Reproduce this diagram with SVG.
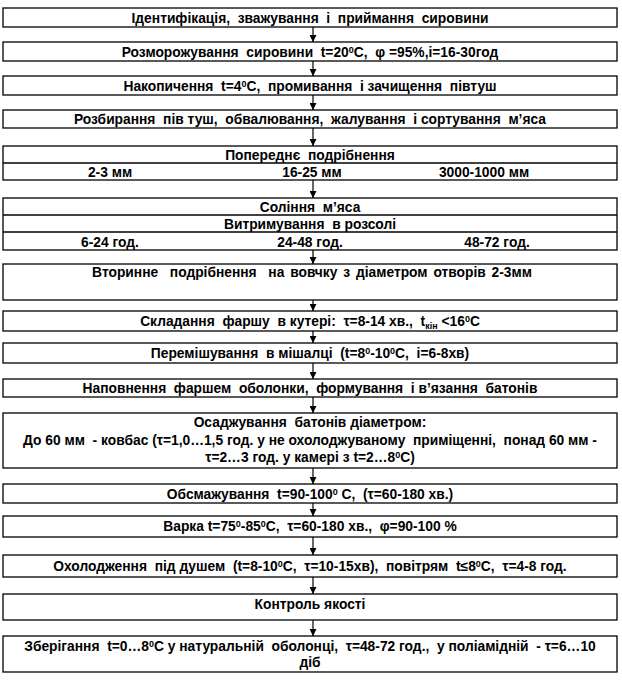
<svg xmlns="http://www.w3.org/2000/svg" width="622" height="680" viewBox="0 0 622 680">
<defs>
<style>
.b{fill:#fff;stroke:#000;stroke-width:1.3}
.d{stroke:#000;stroke-width:1.3}
text{font-family:"Liberation Sans",Arial,sans-serif;font-weight:bold;font-size:13.8px;fill:#000;text-anchor:middle;white-space:pre}
.s{font-size:9px}
.c line{stroke:#000;stroke-width:1.2}
</style>
<marker id="ah" viewBox="0 0 10 10" refX="10" refY="5" markerWidth="7" markerHeight="7" markerUnits="userSpaceOnUse" orient="auto"><path d="M0,0L10,5L0,10z" fill="#000"/></marker>
</defs>
<rect width="622" height="680" fill="#fff"/>
<g class="c" id="connectors">
<line x1="313" y1="27" x2="313" y2="42" marker-end="url(#ah)"/>
<line x1="313" y1="61" x2="313" y2="76" marker-end="url(#ah)"/>
<line x1="313" y1="95" x2="313" y2="110" marker-end="url(#ah)"/>
<line x1="313" y1="128" x2="313" y2="146" marker-end="url(#ah)"/>
<line x1="313" y1="180" x2="313" y2="198" marker-end="url(#ah)"/>
<line x1="313" y1="250" x2="313" y2="264" marker-end="url(#ah)"/>
<line x1="313" y1="300" x2="313" y2="311" marker-end="url(#ah)"/>
<line x1="313" y1="331" x2="313" y2="343" marker-end="url(#ah)"/>
<line x1="313" y1="363" x2="313" y2="379" marker-end="url(#ah)"/>
<line x1="313" y1="397" x2="313" y2="413" marker-end="url(#ah)"/>
<line x1="313" y1="468" x2="313" y2="484" marker-end="url(#ah)"/>
<line x1="313" y1="503" x2="313" y2="516" marker-end="url(#ah)"/>
<line x1="313" y1="537" x2="313" y2="555" marker-end="url(#ah)"/>
<line x1="313" y1="577" x2="313" y2="594" marker-end="url(#ah)"/>
<line x1="313" y1="620" x2="313" y2="636" marker-end="url(#ah)"/>
</g>
<g id="n1"><rect class="b" x="3" y="8" width="614" height="19"/><text x="310" y="22.5">Ідентифікація,  зважування  і  приймання  сировини</text></g>
<g id="n2"><rect class="b" x="3" y="42" width="614" height="19"/><text x="310" y="56.5">Розморожування  сировини  t=20<tspan class="s" dy="-4">0</tspan><tspan dy="4">C,  φ =95%,і=16-30год</tspan></text></g>
<g id="n3"><rect class="b" x="3" y="76" width="614" height="19"/><text x="310" y="90.5">Накопичення  t=4<tspan class="s" dy="-4">0</tspan><tspan dy="4">C,  промивання  і зачищення  півтуш</tspan></text></g>
<g id="n4"><rect class="b" x="3" y="110" width="614" height="18"/><text x="310" y="124">Розбирання  пів туш,  обвалювання,  жалування  і сортування  м’яса</text></g>
<g id="n5"><rect class="b" x="3" y="146" width="614" height="34"/><line class="d" x1="3" y1="163" x2="617" y2="163"/><text x="310" y="159.5">Попереднє  подрібнення</text><text x="110" y="176.5">2-3 мм</text><text x="312" y="176.5">16-25 мм</text><text x="484" y="176.5">3000-1000 мм</text></g>
<g id="n6"><rect class="b" x="3" y="198" width="614" height="52"/><line class="d" x1="3" y1="215" x2="617" y2="215"/><line class="d" x1="3" y1="232" x2="617" y2="232"/><text x="310" y="211.5">Соління  м’яса</text><text x="310" y="228.5">Витримування  в розсолі</text><text x="110" y="246.5">6-24 год.</text><text x="310" y="246.5">24-48 год.</text><text x="497" y="246.5">48-72 год.</text></g>
<g id="n7"><rect class="b" x="3" y="264" width="614" height="36"/><text x="312" y="276.5" word-spacing="2">Вторинне  подрібнення  на вовчку з діаметром отворів 2-3мм</text></g>
<g id="n8"><rect class="b" x="3" y="311" width="614" height="20"/><text x="310" y="325.5">Складання  фаршу  в кутері:  τ=8-14 хв.,  t<tspan class="s" dy="3">кін</tspan><tspan dy="-3"> &lt;16</tspan><tspan class="s" dy="-4">0</tspan><tspan dy="4">C</tspan></text></g>
<g id="n9"><rect class="b" x="3" y="343" width="614" height="20"/><text x="310" y="357.5">Перемішування  в мішалці  (t=8<tspan class="s" dy="-4">0</tspan><tspan dy="4">-10</tspan><tspan class="s" dy="-4">0</tspan><tspan dy="4">C,  і=6-8хв)</tspan></text></g>
<g id="n10"><rect class="b" x="3" y="379" width="614" height="18"/><text x="310" y="393">Наповнення  фаршем  оболонки,  формування  і в’язання  батонів</text></g>
<g id="n11"><rect class="b" x="3" y="413" width="614" height="55"/><text x="310" y="426.5">Осаджування  батонів діаметром:</text><text x="310" y="444.5">До 60 мм  - ковбас (τ=1,0…1,5 год. у не охолоджуваному  приміщенні,  понад 60 мм -</text><text x="310" y="462">τ=2…3 год. у камері з t=2…8<tspan class="s" dy="-4">0</tspan><tspan dy="4">C)</tspan></text></g>
<g id="n12"><rect class="b" x="3" y="484" width="614" height="19"/><text x="310" y="498.5">Обсмажування  t=90-100<tspan class="s" dy="-4">0</tspan><tspan dy="4"> C,  (τ=60-180 хв.)</tspan></text></g>
<g id="n13"><rect class="b" x="3" y="516" width="614" height="21"/><text x="310" y="531">Варка t=75<tspan class="s" dy="-4">0</tspan><tspan dy="4">-85</tspan><tspan class="s" dy="-4">0</tspan><tspan dy="4">C,  τ=60-180 хв.,  φ=90-100 %</tspan></text></g>
<g id="n14"><rect class="b" x="3" y="555" width="614" height="22"/><text x="310" y="571">Охолодження  під душем  (t=8-10<tspan class="s" dy="-4">0</tspan><tspan dy="4">C,  τ=10-15хв),  повітрям  t≤8</tspan><tspan class="s" dy="-4">0</tspan><tspan dy="4">C,  τ=4-8 год.</tspan></text></g>
<g id="n15"><rect class="b" x="3" y="594" width="614" height="26"/><text x="310" y="609">Контроль якості</text></g>
<g id="n16"><rect class="b" x="3" y="636" width="614" height="36"/><text x="310" y="651">Зберігання  t=0…8<tspan class="s" dy="-4">0</tspan><tspan dy="4">C у натуральній  оболонці,  τ=48-72 год.,  у поліамідній  - τ=6…10</tspan></text><text x="310" y="667">діб</text></g>
</svg>
